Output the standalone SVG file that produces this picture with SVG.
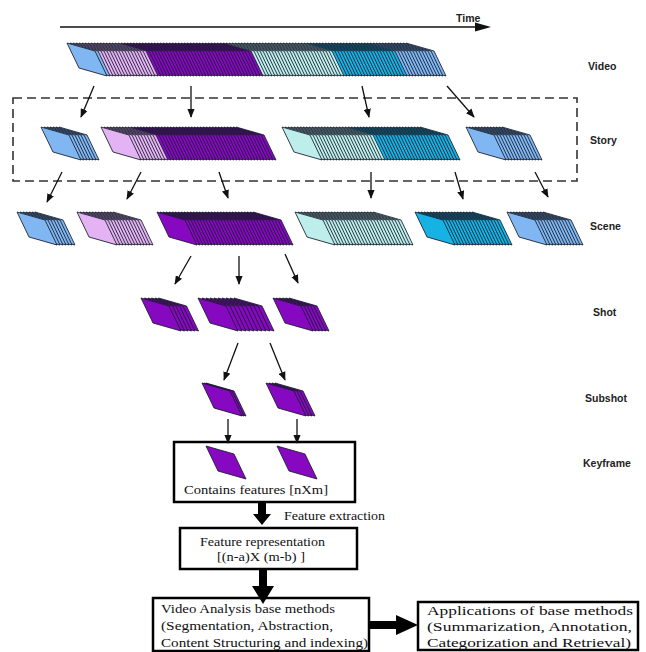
<svg xmlns="http://www.w3.org/2000/svg" xmlns:xlink="http://www.w3.org/1999/xlink" width="646" height="652" viewBox="0 0 646 652">
  <style>
    .stk { stroke: #161b28; stroke-width: 0.85; stroke-linejoin: round; }
    .lb { fill: #80b6f2; }
    .pk { fill: #e3b3f3; }
    .pu { fill: #8608c0; }
    .lc { fill: #bdeeec; }
    .cy { fill: #16b2e4; }
    .lvl { font-family: "Liberation Sans", Arial, sans-serif; font-weight: bold; font-size: 10.5px; fill: #222; }
    .ser { font-family: "Liberation Serif", "Times New Roman", serif; fill: #111; }
    .thin { stroke: #111; stroke-width: 1.3; fill: none; marker-end: url(#ah); }
    .box { fill: #fff; stroke: #000; stroke-width: 2.5; }
    .fat { fill: #000; }
  </style>
  <defs>
    <!-- one video frame in perspective; stacks are drawn back to front -->
    <polygon id="f" points="0,0 28,8 40,33 12,25"/>
    <g id="f5"><use href="#f" x="12"/><use href="#f" x="9"/><use href="#f" x="6"/><use href="#f" x="3"/><use href="#f"/></g>
    <g id="f10"><use href="#f5" x="15"/><use href="#f5"/></g>
    <marker id="ah" viewBox="0 0 10 8" refX="9" refY="4" markerWidth="9" markerHeight="7.5" markerUnits="userSpaceOnUse" orient="auto">
      <path d="M0,0 L10,4 L0,8 z" fill="#111"/>
    </marker>
  </defs>
  <rect width="646" height="652" fill="#fff"/>

  <!-- time axis -->
  <g id="time">
    <line x1="60" y1="27" x2="477" y2="27" stroke="#111" stroke-width="1.3"/>
    <polygon points="475,22.5 491,27 475,31.5" fill="#111"/>
    <text x="456" y="22" class="lvl">Time</text>
  </g>

  <!-- level labels -->
  <g id="labels">
    <text x="588" y="70" class="lvl">Video</text>
    <text x="590" y="144" class="lvl">Story</text>
    <text x="590" y="230" class="lvl">Scene</text>
    <text x="593" y="316" class="lvl">Shot</text>
    <text x="585" y="402" class="lvl">Subshot</text>
    <text x="583" y="467" class="lvl">Keyframe</text>
  </g>

  <!-- whole video -->
  <g id="video" class="stk" transform="translate(0,43)">
    <g class="lb"><use href="#f10" x="379"/><use href="#f" x="376"/><use href="#f" x="373"/><use href="#f" x="370"/></g>
    <g class="cy"><use href="#f10" x="340"/><use href="#f10" x="310"/><use href="#f" x="307"/></g>
    <g class="lc"><use href="#f10" x="277"/><use href="#f10" x="247"/><use href="#f5" x="232"/><use href="#f" x="229"/><use href="#f" x="226"/></g>
    <g class="pu"><use href="#f10" x="196"/><use href="#f10" x="166"/><use href="#f10" x="136"/><use href="#f5" x="121"/></g>
    <g class="pk"><use href="#f10" x="91"/><use href="#f5" x="76"/><use href="#f" x="73"/></g>
    <g class="lb"><use href="#f" x="70"/><use href="#f" x="67"/></g>
  </g>

  <!-- stories -->
  <rect id="story-frame" x="13" y="98" width="564" height="83" fill="none" stroke="#333" stroke-width="1.6" stroke-dasharray="9,5"/>
  <g id="story1" class="stk lb" transform="translate(0,127)">
    <use href="#f5" x="47"/><use href="#f" x="44"/><use href="#f" x="41"/>
  </g>
  <g id="story2" class="stk" transform="translate(0,127)">
    <g class="pu"><use href="#f10" x="209"/><use href="#f10" x="179"/><use href="#f10" x="149"/><use href="#f5" x="134"/><use href="#f" x="131"/></g>
    <g class="pk"><use href="#f5" x="116"/><use href="#f5" x="101"/></g>
  </g>
  <g id="story3" class="stk" transform="translate(0,127)">
    <g class="cy"><use href="#f10" x="393"/><use href="#f10" x="363"/><use href="#f5" x="348"/></g>
    <g class="lc"><use href="#f10" x="318"/><use href="#f10" x="288"/><use href="#f" x="285"/><use href="#f" x="282"/></g>
  </g>
  <g id="story4" class="stk lb" transform="translate(0,127)">
    <use href="#f10" x="475"/><use href="#f" x="472"/><use href="#f" x="469"/><use href="#f" x="466"/>
  </g>

  <!-- scenes -->
  <g id="scene1" class="stk lb" transform="translate(0,212)">
    <use href="#f5" x="23"/><use href="#f" x="20"/><use href="#f" x="17"/>
  </g>
  <g id="scene2" class="stk pk" transform="translate(0,212)">
    <use href="#f10" x="86"/><use href="#f" x="83"/><use href="#f" x="80"/><use href="#f" x="77"/>
  </g>
  <g id="scene3" class="stk pu" transform="translate(0,212)">
    <use href="#f10" x="226"/><use href="#f10" x="196"/><use href="#f10" x="166"/><use href="#f" x="163"/><use href="#f" x="160"/><use href="#f" x="157"/>
  </g>
  <g id="scene4" class="stk lc" transform="translate(0,212)">
    <use href="#f10" x="346"/><use href="#f10" x="316"/><use href="#f5" x="301"/><use href="#f" x="298"/><use href="#f" x="295"/>
  </g>
  <g id="scene5" class="stk cy" transform="translate(0,212)">
    <use href="#f10" x="445"/><use href="#f10" x="415"/>
  </g>
  <g id="scene6" class="stk lb" transform="translate(0,212)">
    <use href="#f10" x="516"/><use href="#f" x="513"/><use href="#f" x="510"/><use href="#f" x="507"/>
  </g>

  <!-- shots -->
  <g id="shot1" class="stk pu" transform="translate(0,298)">
    <use href="#f" x="158.5"/><use href="#f" x="155"/><use href="#f" x="151.5"/><use href="#f" x="148"/><use href="#f" x="144.5"/><use href="#f" x="141"/>
  </g>
  <g id="shot2" class="stk pu" transform="translate(0,298)">
    <use href="#f" x="234"/><use href="#f" x="230"/><use href="#f" x="226"/><use href="#f" x="222"/><use href="#f" x="218"/><use href="#f" x="214"/><use href="#f" x="210"/><use href="#f" x="206"/><use href="#f" x="202"/><use href="#f" x="198"/>
  </g>
  <g id="shot3" class="stk pu" transform="translate(0,298)">
    <use href="#f" x="289"/><use href="#f" x="285.8"/><use href="#f" x="282.6"/><use href="#f" x="279.4"/><use href="#f" x="276.2"/><use href="#f" x="273"/>
  </g>

  <!-- subshots -->
  <g id="subshot1" class="stk pu" transform="translate(0,383)">
    <use href="#f" x="206"/><use href="#f" x="204"/><use href="#f" x="202"/>
  </g>
  <g id="subshot2" class="stk pu" transform="translate(0,383)">
    <use href="#f" x="275"/><use href="#f" x="272"/><use href="#f" x="269"/><use href="#f" x="266"/>
  </g>

  <!-- keyframes and their feature box -->
  <g id="keyframes">
    <rect x="174" y="442" width="181" height="60" class="box"/>
    <g class="stk pu" transform="translate(0,446)"><use href="#f" x="206"/><use href="#f" x="277"/></g>
    <text x="184" y="494" class="ser" font-size="13.5" textLength="144" lengthAdjust="spacingAndGlyphs">Contains features [nXm]</text>
  </g>

  <g id="feature-rep">
    <rect x="180" y="528" width="177" height="41" class="box" stroke-width="2"/>
    <text x="200" y="546" class="ser" font-size="12.5" textLength="125" lengthAdjust="spacingAndGlyphs">Feature representation</text>
    <text x="217" y="561" class="ser" font-size="12.5" textLength="88" lengthAdjust="spacingAndGlyphs">[(n-a)X (m-b) ]</text>
  </g>

  <g id="base-methods">
    <rect x="153" y="598" width="216" height="53" class="box"/>
    <text x="161" y="613" class="ser" font-size="13.5" textLength="174" lengthAdjust="spacingAndGlyphs">Video Analysis base methods</text>
    <text x="161" y="630" class="ser" font-size="13.5" textLength="172" lengthAdjust="spacingAndGlyphs">(Segmentation, Abstraction,</text>
    <text x="161" y="647" class="ser" font-size="13.5" textLength="207" lengthAdjust="spacingAndGlyphs">Content Structuring and indexing)</text>
  </g>

  <g id="applications">
    <rect x="418" y="602" width="220" height="48" class="box"/>
    <text x="427" y="615" class="ser" font-size="13.5" textLength="206" lengthAdjust="spacingAndGlyphs">Applications of base methods</text>
    <text x="427" y="631" class="ser" font-size="13.5" textLength="205" lengthAdjust="spacingAndGlyphs">(Summarization, Annotation,</text>
    <text x="427" y="647" class="ser" font-size="13.5" textLength="204" lengthAdjust="spacingAndGlyphs">Categorization and Retrieval)</text>
  </g>

  <!-- connectors -->
  <g id="connectors">
    <path class="thin" d="M94,86 L81,117"/>
    <path class="thin" d="M191,86 L191,117"/>
    <path class="thin" d="M362,86 L369,117"/>
    <path class="thin" d="M447,86 L474,117"/>

    <path class="thin" d="M62,172 L47,202"/>
    <path class="thin" d="M141,172 L127,199"/>
    <path class="thin" d="M219,172 L228,198"/>
    <path class="thin" d="M371,172 L371,198"/>
    <path class="thin" d="M455,172 L463,199"/>
    <path class="thin" d="M535,172 L548,197"/>

    <path class="thin" d="M191,256 L175,284"/>
    <path class="thin" d="M239,256 L239,284"/>
    <path class="thin" d="M285,254 L298,283"/>

    <path class="thin" d="M238,343 L224,380"/>
    <path class="thin" d="M270,343 L285,380"/>

    <path class="thin" d="M228,419 L228,443"/>
    <path class="thin" d="M297,419 L297,443"/>

    <g class="fat">
      <rect x="258" y="503" width="8" height="12"/>
      <polygon points="253,514 271,514 262,525"/>
      <rect x="259" y="569" width="8" height="19"/>
      <polygon points="252,586 274,586 263,604"/>
      <rect x="369" y="621" width="29" height="8"/>
      <polygon points="396,615 396,635 418,625"/>
    </g>
    <text x="284" y="520" class="ser" font-size="12.5" textLength="101" lengthAdjust="spacingAndGlyphs">Feature extraction</text>
  </g>
</svg>
